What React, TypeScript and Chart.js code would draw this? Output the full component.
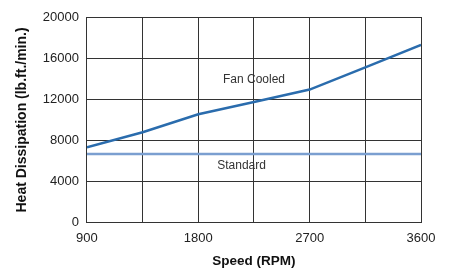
import React, { useEffect, useRef } from "react";
import { Chart, registerables } from "chart.js";

Chart.register(...registerables);

const speeds = [900, 1350, 1800, 2250, 2700, 3150, 3600];
const fanCooled = [7350, 8800, 10550, 11750, 12950, 15100, 17300];
const standard = [6700, 6700, 6700, 6700, 6700, 6700, 6700];
const xTickLabels = [900, 1800, 2700, 3600];
const seriesLabels = [
  { text: "Fan Cooled", x: 2250, y: 13900 },
  { text: "Standard", x: 2150, y: 5550 },
];

const labelPlugin = {
  id: "seriesLabels",
  afterDatasetsDraw(chart: any) {
    const { ctx, scales } = chart;
    ctx.save();
    ctx.font = "12px 'Liberation Sans', Arial, sans-serif";
    ctx.fillStyle = "#333";
    ctx.textAlign = "center";
    ctx.textBaseline = "middle";
    for (const l of seriesLabels) {
      ctx.fillText(l.text, scales.x.getPixelForValue(l.x), scales.y.getPixelForValue(l.y));
    }
    ctx.restore();
  },
};

export default function App() {
  const ref = useRef<HTMLCanvasElement>(null);
  useEffect(() => {
    const font = { family: "'Liberation Sans', Arial, sans-serif", size: 13 };
    const chart = new Chart(ref.current!, {
      type: "line",
      data: {
        datasets: [
          {
            label: "Fan Cooled",
            data: speeds.map((s, i) => ({ x: s, y: fanCooled[i] })),
            borderColor: "#2a6cad",
            borderWidth: 2.5,
            pointRadius: 0,
            tension: 0,
          },
          {
            label: "Standard",
            data: speeds.map((s, i) => ({ x: s, y: standard[i] })),
            borderColor: "#7b9fd0",
            borderWidth: 2.5,
            pointRadius: 0,
          },
        ],
      },
      options: {
        animation: false,
        responsive: false,
        layout: { padding: { left: 14, right: 30, top: 17, bottom: 0 } },
        plugins: { legend: { display: false }, tooltip: { enabled: false } },
        scales: {
          x: {
            type: "linear",
            min: 900,
            max: 3600,
            border: { color: "#333", width: 1 },
            grid: { color: "#333", lineWidth: 1, drawTicks: false },
            ticks: {
              stepSize: 450,
              autoSkip: false,
              padding: 8,
              color: "#222",
              font,
              callback: (v: any) => (xTickLabels.includes(Number(v)) ? String(v) : ""),
            },
            title: {
              display: true,
              text: "Speed (RPM)",
              color: "#111",
              font: { ...font, size: 13.5, weight: "bold", lineHeight: 1 },
              padding: { top: 0, bottom: 0 },
            },
          },
          y: {
            min: 0,
            max: 20000,
            border: { color: "#333", width: 1 },
            grid: { color: "#333", lineWidth: 1, drawTicks: false },
            ticks: { stepSize: 4000, padding: 8, color: "#222", font, callback: (v: any) => String(v) },
            title: {
              display: true,
              text: "Heat Dissipation (lb.ft./min.)",
              color: "#111",
              font: { ...font, size: 14, weight: "bold" },
              padding: { top: 0, bottom: 4 },
            },
          },
        },
      },
      plugins: [labelPlugin],
    });
    return () => chart.destroy();
  }, []);
  return (
    <div style={{ position: "fixed", left: 0, top: 0, width: 451, height: 268, background: "#fff" }}>
      <canvas ref={ref} width={451} height={268} />
    </div>
  );
}
